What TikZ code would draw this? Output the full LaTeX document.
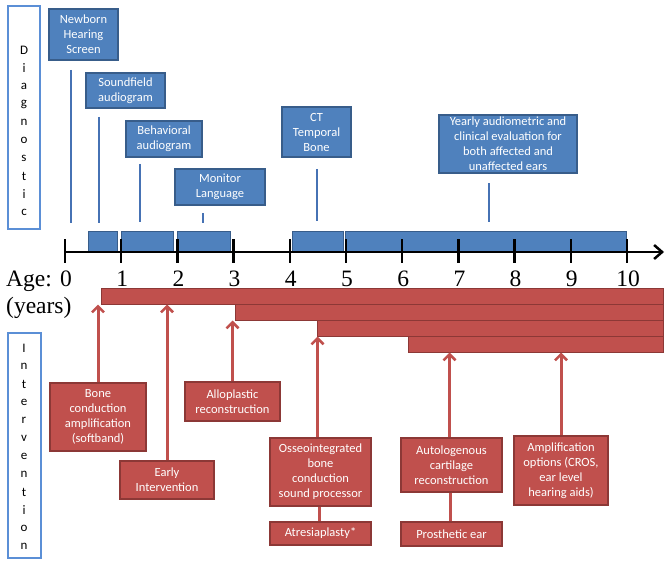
\documentclass[tikz,border=0pt]{standalone}
\usepackage{fontspec}
\setmainfont{Liberation Serif}
\newfontfamily\boxfont{Carlito}
\usetikzlibrary{arrows.meta,calc}
\definecolor{bfill}{HTML}{4F81BD}
\definecolor{bline}{HTML}{385D8A}
\definecolor{vlinec}{HTML}{4672B4}
\definecolor{rfill}{HTML}{C0504D}
\definecolor{rline}{HTML}{8C3836}
\definecolor{sidec}{HTML}{5B8FD6}
\begin{document}
\begin{tikzpicture}[x=1pt,y=-1pt,
  bbox/.style={draw=bline, fill=bfill, line width=1.2pt, text=white, font=\boxfont\fontsize{12.5}{15}\selectfont, align=center, inner sep=0pt},
  rbox/.style={draw=rline, fill=rfill, line width=1.2pt, text=white, font=\boxfont\fontsize{12.5}{15}\selectfont, align=center, inner sep=0pt},
  bluebar/.style={draw=bline, fill=bfill, line width=0.8pt, inner sep=0pt},
  redbar/.style={draw=rline, fill=rfill, line width=1pt, inner sep=0pt},
  vln/.style={vlinec, line width=2.5pt},
  rarrow/.style={rfill, line width=3pt, -{Straight Barb[length=6pt,width=12pt,line width=2.5pt]}},
  rlink/.style={rfill, line width=3pt},
  axisln/.style={black, line width=2.5pt},
  sidebox/.style={draw=sidec, line width=1.5pt, inner sep=0pt},
  letter/.style={font=\boxfont\fontsize{13}{14}\selectfont, inner sep=0pt},
  agetxt/.style={font=\fontsize{23.5}{27}\selectfont, inner sep=0pt}
]
\useasboundingbox (0,0) rectangle (671,564);

% side label boxes
\node[sidebox, minimum width=32pt, minimum height=223pt] (diag) at (24,117.5) {};
\node[sidebox, minimum width=33pt, minimum height=225pt] (interv) at (24.5,445.5) {};
\foreach \c [count=\k] in {D,i,a,g,n,o,s,t,i,c}
  \node[letter] (dl\k) at (24, 32+18*\k) {\c};
\foreach \c [count=\k] in {I,n,t,e,r,v,e,n,t,i,o,n}
  \node[letter] (il\k) at (24, 330+18*\k) {\c};

% diagnostic boxes
\node[bbox, minimum width=69pt, minimum height=51pt] (nb) at (83.5,34.5) {Newborn\\Hearing\\Screen};
\node[bbox, minimum width=79pt, minimum height=35pt] (sf) at (125.5,90.5) {Soundfield\\audiogram};
\node[bbox, minimum width=76pt, minimum height=36pt] (ba) at (164,139) {Behavioral\\audiogram};
\node[bbox, minimum width=90pt, minimum height=36pt] (ml) at (220,187) {Monitor\\Language};
\node[bbox, minimum width=69pt, minimum height=50pt] (ct) at (316.5,132) {CT\\Temporal\\Bone};
\node[bbox, minimum width=138pt, minimum height=58pt] (yr) at (508,144) {Yearly audiometric and\\clinical evaluation for\\both affected and\\unaffected ears};

% vertical blue lines
\draw[vln] (71,70) -- (71,223);
\draw[vln] (99,117) -- (99,223);
\draw[vln] (140,164) -- (140,222);
\draw[vln] (203,213) -- (203,223);
\draw[vln] (317,169) -- (317,221);
\draw[vln] (489,183) -- (489,222);

% blue bars
\node[bluebar, minimum width=29pt, minimum height=20pt] (bb1) at (102.5,241) {};
\node[bluebar, minimum width=52pt, minimum height=20pt] (bb2) at (147,241) {};
\node[bluebar, minimum width=53pt, minimum height=20pt] (bb3) at (203.5,241) {};
\node[bluebar, minimum width=51pt, minimum height=20pt] (bb4) at (317.5,241) {};
\node[bluebar, minimum width=281pt, minimum height=20pt] (bb5) at (485.5,241) {};

% axis
\coordinate (ax0) at (65,252);
\coordinate (ax1) at (664,252);
\draw[axisln, -{Straight Barb[length=8pt,width=14pt,line width=2.5pt]}] (ax0) -- (ax1);
\foreach \i in {0,...,10} {
  \draw[axisln] (65+56.2*\i,239) -- (65+56.2*\i,263);
  \node[agetxt, anchor=base] (num\i) at (66+56.2*\i,286) {\i};
}
\node[agetxt, anchor=base west] (age) at (6,286) {Age:};
\node[agetxt, anchor=base west] (years) at (6,313) {(years)};

% red bars
\node[redbar, minimum width=562pt, minimum height=16pt] (rb1) at (382,296) {};
\node[redbar, minimum width=428pt, minimum height=16pt] (rb2) at (449,312) {};
\node[redbar, minimum width=346pt, minimum height=16pt] (rb3) at (490,328) {};
\node[redbar, minimum width=255pt, minimum height=16pt] (rb4) at (535.5,344) {};

% intervention boxes
\node[rbox, minimum width=96pt, minimum height=68pt] (bone) at (98,417) {Bone\\conduction\\amplification\\(softband)};
\node[rbox, minimum width=94pt, minimum height=38pt] (early) at (167,480) {Early\\Intervention};
\node[rbox, minimum width=95pt, minimum height=39pt] (allo) at (232.5,401.5) {Alloplastic\\reconstruction};
\node[rbox, minimum width=101pt, minimum height=68pt] (osseo) at (320.5,472) {Osseointegrated\\bone\\conduction\\sound processor};
\node[rbox, minimum width=101pt, minimum height=23pt] (atres) at (320.5,533.5) {Atresiaplasty*};
\node[rbox, minimum width=101pt, minimum height=54pt] (auto) at (451.5,465) {Autologenous\\cartilage\\reconstruction};
\node[rbox, minimum width=101pt, minimum height=24pt] (pros) at (451.5,534) {Prosthetic ear};
\node[rbox, minimum width=94pt, minimum height=69pt] (ampl) at (561,470.5) {Amplification\\options (CROS,\\ear level\\hearing aids)};

% red arrows
\draw[rarrow] (bone.north) -- (bone.north |- rb1.south);
\draw[rarrow] (early.north) -- (early.north |- rb1.south);
\draw[rarrow] (allo.north) -- (allo.north |- rb2.south);
\draw[rarrow] ([xshift=-3pt]osseo.north) -- ([xshift=-3pt]osseo.north |- rb3.south);
\draw[rarrow] ([xshift=-2pt]auto.north) -- ([xshift=-2pt]auto.north |- rb4.south);
\draw[rarrow] (ampl.north) -- (ampl.north |- rb4.south);
\draw[rlink] ([xshift=-1.5pt]osseo.south) -- ([xshift=-1.5pt]atres.north);
\draw[rlink] ([xshift=-1.5pt]auto.south) -- ([xshift=-1.5pt]pros.north);
\end{tikzpicture}
\end{document}
